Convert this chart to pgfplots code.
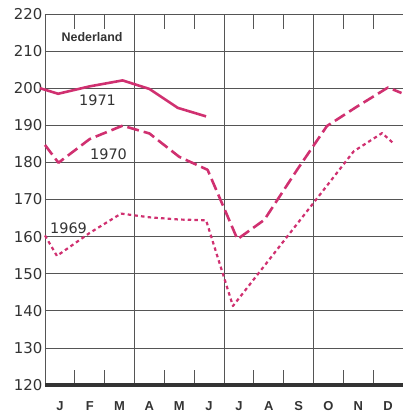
\documentclass[border=0pt]{standalone}
\usepackage{pgfplots}
\pgfplotsset{compat=1.18}
\usepackage{fontspec}
\setmainfont{DejaVu Sans}
\newfontfamily\lib{Liberation Sans}
\definecolor{mag}{RGB}{208,48,112}
\definecolor{gridc}{RGB}{85,85,85}
\begin{document}
\begin{tikzpicture}
\useasboundingbox (-45bp,-27bp) rectangle (358bp,385bp);
\begin{axis}[
  at={(0,0)}, anchor=south west,
  scale only axis, width=358bp, height=371bp,
  xmin=0, xmax=12, ymin=120, ymax=220,
  clip=false,
  axis x line*=box, axis y line*=left,
  axis line style={gridc, line width=0.8bp},
  xtick={0.5,1.5,...,11.5},
  xticklabels={J,F,M,A,M,J,J,A,S,O,N,D},
  major tick length=0pt,
  minor xtick={1,2,4,5,7,8,10,11},
  minor tick length=15bp,
  tick align=inside,
  minor tick style={gridc, line width=0.8bp},
  extra x ticks={3,6,9},
  extra x tick labels={},
  extra x tick style={grid=major},
  ytick={120,130,...,220},
  ymajorgrids,
  major grid style={gridc, line width=0.8bp},
  /pgf/number format/assume math mode=true,
  yticklabel style={font=\fontsize{15}{15}\selectfont, color=black!80, xshift=1bp},
  xticklabel style={font=\lib\bfseries\fontsize{13}{13}\selectfont, color=black!80, text height=9.5bp, text depth=0pt, yshift=-12.5bp},
  line join=round,
]
\addplot[mag, line width=2.6bp] coordinates {
  (-0.17,200) (0.44,198.5) (1.5,200.5) (2.6,202.1) (3.5,199.8) (4.45,194.7) (5.4,192.4)};
\addplot[mag, line width=2.6bp, dash pattern=on 12bp off 5bp] coordinates {
  (0,184.7) (0.45,179.9) (1.5,186.3) (2.6,189.9) (3.5,187.8) (4.5,181.5) (5.45,178)
  (6.45,159.3) (7.35,164.5) (8.45,178) (9.45,189.8) (10.45,195) (11.5,200.2) (11.95,198.7)};
\addplot[mag, line width=2.2bp, dash pattern=on 3.5bp off 3.2bp] coordinates {
  (0,160.3) (0.4,154.8) (1.5,161) (2.55,166.2) (3.5,165.2) (4.5,164.6) (5.4,164.4)
  (6.3,141.3) (7.4,152.6) (8.4,162.9) (9.4,173.2) (10.35,183) (11.3,187.9) (11.67,185.2)};
\draw[line width=4bp, black!80] (axis cs:0,120) -- (axis cs:12,120);
\node[font=\lib\bfseries\fontsize{12.5}{13}\selectfont, text=black!80] at (axis cs:1.58,213.7) {Nederland};
\node[font=\fontsize{14.5}{15}\selectfont, text=black!80] at (axis cs:1.76,196.8) {1971};
\node[font=\fontsize{14.5}{15}\selectfont, text=black!80] at (axis cs:2.13,182.3) {1970};
\node[font=\fontsize{14.5}{15}\selectfont, text=black!80] at (axis cs:0.79,162.3) {1969};
\end{axis}
\end{tikzpicture}
\end{document}
